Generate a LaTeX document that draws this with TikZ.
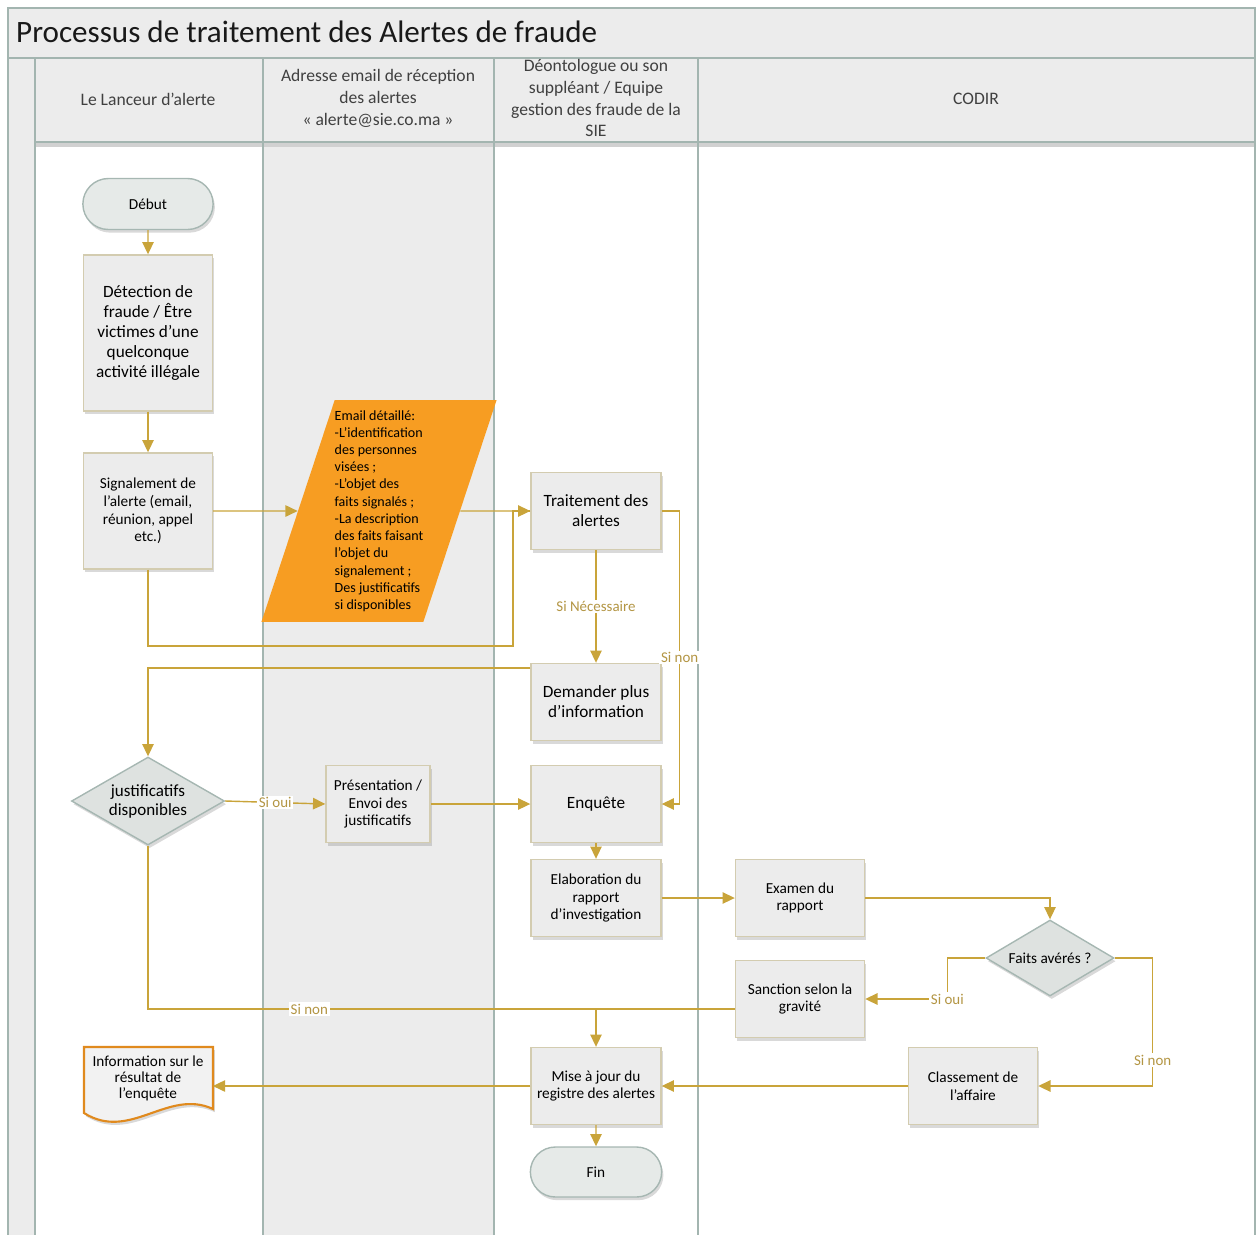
\documentclass[tikz,border=0pt]{standalone}
\usepackage{fontspec}
\setmainfont{Carlito}
\usetikzlibrary{positioning,shapes.geometric,shapes.misc,arrows.meta,shadows}

\definecolor{lanegray}{HTML}{ECECEC}
\definecolor{laneline}{HTML}{A3B5B0}
\definecolor{boxline}{HTML}{D3CCB0}
\definecolor{flow}{HTML}{C9A43A}
\definecolor{flowtext}{HTML}{B39543}
\definecolor{mailorange}{HTML}{F79D22}
\definecolor{docorange}{HTML}{E08A1E}
\definecolor{termfill}{HTML}{E6EAE8}
\definecolor{termline}{HTML}{A6B7B2}
\definecolor{decfill}{HTML}{DEE2E0}

\begin{document}
\begin{tikzpicture}[x=0.02cm, y=-0.02cm,
    >={Triangle[length=7pt,width=6.5pt]},
    lane/.style={draw=laneline, line width=1pt},
    head/.style={font=\fontsize{10}{12.5}\selectfont, text=black!75, align=center},
    boxshadow/.style={drop shadow={shadow xshift=1pt, shadow yshift=-1.8pt, opacity=0.3}},
    proc/.style={draw=boxline, fill=lanegray, line width=0.8pt, minimum width=2.58cm,
      minimum height=1.54cm, align=center, inner sep=2pt,
      font=\fontsize{8.7}{10}\selectfont, boxshadow},
    bigtext/.style={font=\fontsize{9.8}{11.3}\selectfont},
    term/.style={rounded rectangle, draw=termline, fill=termfill, line width=0.8pt,
      minimum width=2.84cm, minimum height=1.02cm, font=\fontsize{8.7}{10}\selectfont, boxshadow},
    decision/.style={diamond, draw=termline, fill=decfill, line width=0.8pt,
      inner sep=0pt, align=center, boxshadow},
    flowline/.style={draw=flow, line width=0.8pt},
    lbl/.style={fill=white, text=flowtext, font=\fontsize{8.5}{9}\selectfont, inner sep=1pt}
  ]
  \useasboundingbox (0,0) rectangle (1257,1234);

  % pool and lanes
  \fill[lanegray] (8,8) rectangle (1255,58);
  \fill[lanegray] (8,58) rectangle (35,1245);
  \fill[lanegray] (35,58) rectangle (1255,142);
  \fill[lanegray] (263,142) rectangle (494,1245);
  \fill[black!18] (35,143) rectangle (1255,147);
  \draw[lane] (8,8) rectangle (1255,1245);
  \draw[lane] (8,58) -- (1255,58);
  \draw[lane] (35,142) -- (1255,142);
  \foreach \x in {35,263,494,698}
    \draw[lane] (\x,58) -- (\x,1245);

  \node[anchor=west, font=\fontsize{17.7}{21}\selectfont, text=black!90] (title) at (10,32)
    {Processus de traitement des Alertes de fraude};
  \node[head] (h1) at (148,99) {Le Lanceur d’alerte};
  \node[head] (h2) at (378,98) {Adresse email de réception\\des alertes\\« alerte@sie.co.ma »};
  \node[head] (h3) at (596,98) {Déontologue ou son\\suppléant / Equipe\\gestion des fraude de la\\SIE};
  \node[head] (h4) at (976,99) {CODIR};

  % steps
  \node[term] (debut) at (148,204) {Début};
  \node[proc, bigtext, minimum height=3.12cm] (detect) at (148,333)
    {Détection de\\fraude / Être\\victimes d’une\\quelconque\\activité illégale};
  \node[proc, minimum height=2.32cm] (signal) at (148,511)
    {Signalement de\\l’alerte (email,\\réunion, appel\\etc.)};
  \node[trapezium, trapezium left angle=70, trapezium right angle=110,
    trapezium stretches body, fill=mailorange, minimum width=4.52cm, minimum height=4.44cm,
    inner sep=0pt, align=left, font=\fontsize{8}{9.8}\selectfont] (email) at (379,511)
    {Email détaillé:\\-L’identification\\des personnes\\visées ;\\-L’objet des\\faits signalés ;\\-La description\\des faits faisant\\l’objet du\\signalement ;\\Des justificatifs\\si disponibles};
  \node[proc, bigtext, minimum width=2.6cm] (trait) at (596,511) {Traitement des\\alertes};
  \node[proc, bigtext, minimum width=2.6cm] (demand) at (596,702) {Demander plus\\d’information};
  \node[decision, font=\fontsize{9.7}{10.8}\selectfont, aspect=1.74, minimum width=3.06cm,
    minimum height=1.76cm] (justif) at (148,801) {justificatifs\\disponibles};
  \node[proc, minimum width=2.08cm] (present) at (378,804) {Présentation /\\Envoi des\\justificatifs};
  \node[proc, bigtext, minimum width=2.6cm] (enq) at (596,804) {Enquête};
  \node[proc, minimum width=2.6cm] (elab) at (596,898) {Elaboration du\\rapport\\d’investigation};
  \node[proc] (exam) at (800,898) {Examen du\\rapport};
  \node[decision, font=\fontsize{8.7}{10}\selectfont, aspect=1.68, minimum width=2.56cm,
    minimum height=1.52cm] (faits) at (1050,958) {Faits avérés ?};
  \node[proc] (sanct) at (800,999) {Sanction selon la\\gravité};
  \node[proc] (classe) at (973,1086) {Classement de\\l’affaire};
  \node[proc, minimum width=2.6cm] (maj) at (596,1086) {Mise à jour du\\registre des alertes};
  \node[term, minimum width=2.86cm, minimum height=1cm] (fin) at (596,1172) {Fin};

  % document shape
  \draw[docorange, line width=1.2pt, fill=lanegray!70, boxshadow]
    (84,1047) -- (213,1047) -- (213,1109) .. controls (168,1088) and (130,1142) .. (84,1113) -- cycle;
  \node[minimum width=2.58cm, minimum height=1.56cm, align=center,
    font=\fontsize{8.7}{10}\selectfont] (info) at (148,1086)
    {\raisebox{10pt}{\shortstack{Information sur le\\résultat de\\l’enquête}}};

  % connectors
  \coordinate (loop1) at (513,646);
  \coordinate (merge2) at (596,1009);
  \draw[flowline, ->] (debut) -- (detect);
  \draw[flowline, ->] (detect) -- (signal);
  \draw[flowline, ->] (signal) -- (email);
  \draw[flowline, ->] (email) -- (trait);
  \draw[flowline] (signal.south) |- (loop1) |- (trait.west);
  \draw[flowline, ->] (trait) -- node[lbl] {Si Nécessaire} (demand);
  \draw[flowline, ->] (trait.east) -- ++(18,0) |- node[lbl, pos=0.25] {Si non} (enq.east);
  \draw[flowline, ->] ([yshift=-0.1cm]demand.north west) -| (justif.north);
  \draw[flowline, ->] (justif.east) -- node[lbl] {Si oui} (present.west);
  \draw[flowline, ->] (present) -- (enq);
  \draw[flowline, ->] (enq) -- (elab);
  \draw[flowline, ->] (elab) -- (exam);
  \draw[flowline, ->] (exam.east) -| (faits.north);
  \draw[flowline, ->] (faits.west) -- ++(-38,0) |- node[lbl, pos=0.5] {Si oui} (sanct.east);
  \draw[flowline, ->] (faits.east) -- ++(38,0) |- node[lbl, pos=0.4] {Si non} (classe.east);
  \draw[flowline] (justif.south) |- node[lbl, pos=0.68] {Si non} (merge2);
  \draw[flowline, ->] ([yshift=-0.2cm]sanct.west) -| (maj.north);
  \draw[flowline, ->] (classe) -- (maj);
  \draw[flowline, ->] (maj) -- (info);
  \draw[flowline, ->] (maj) -- (fin);
\end{tikzpicture}
\end{document}
